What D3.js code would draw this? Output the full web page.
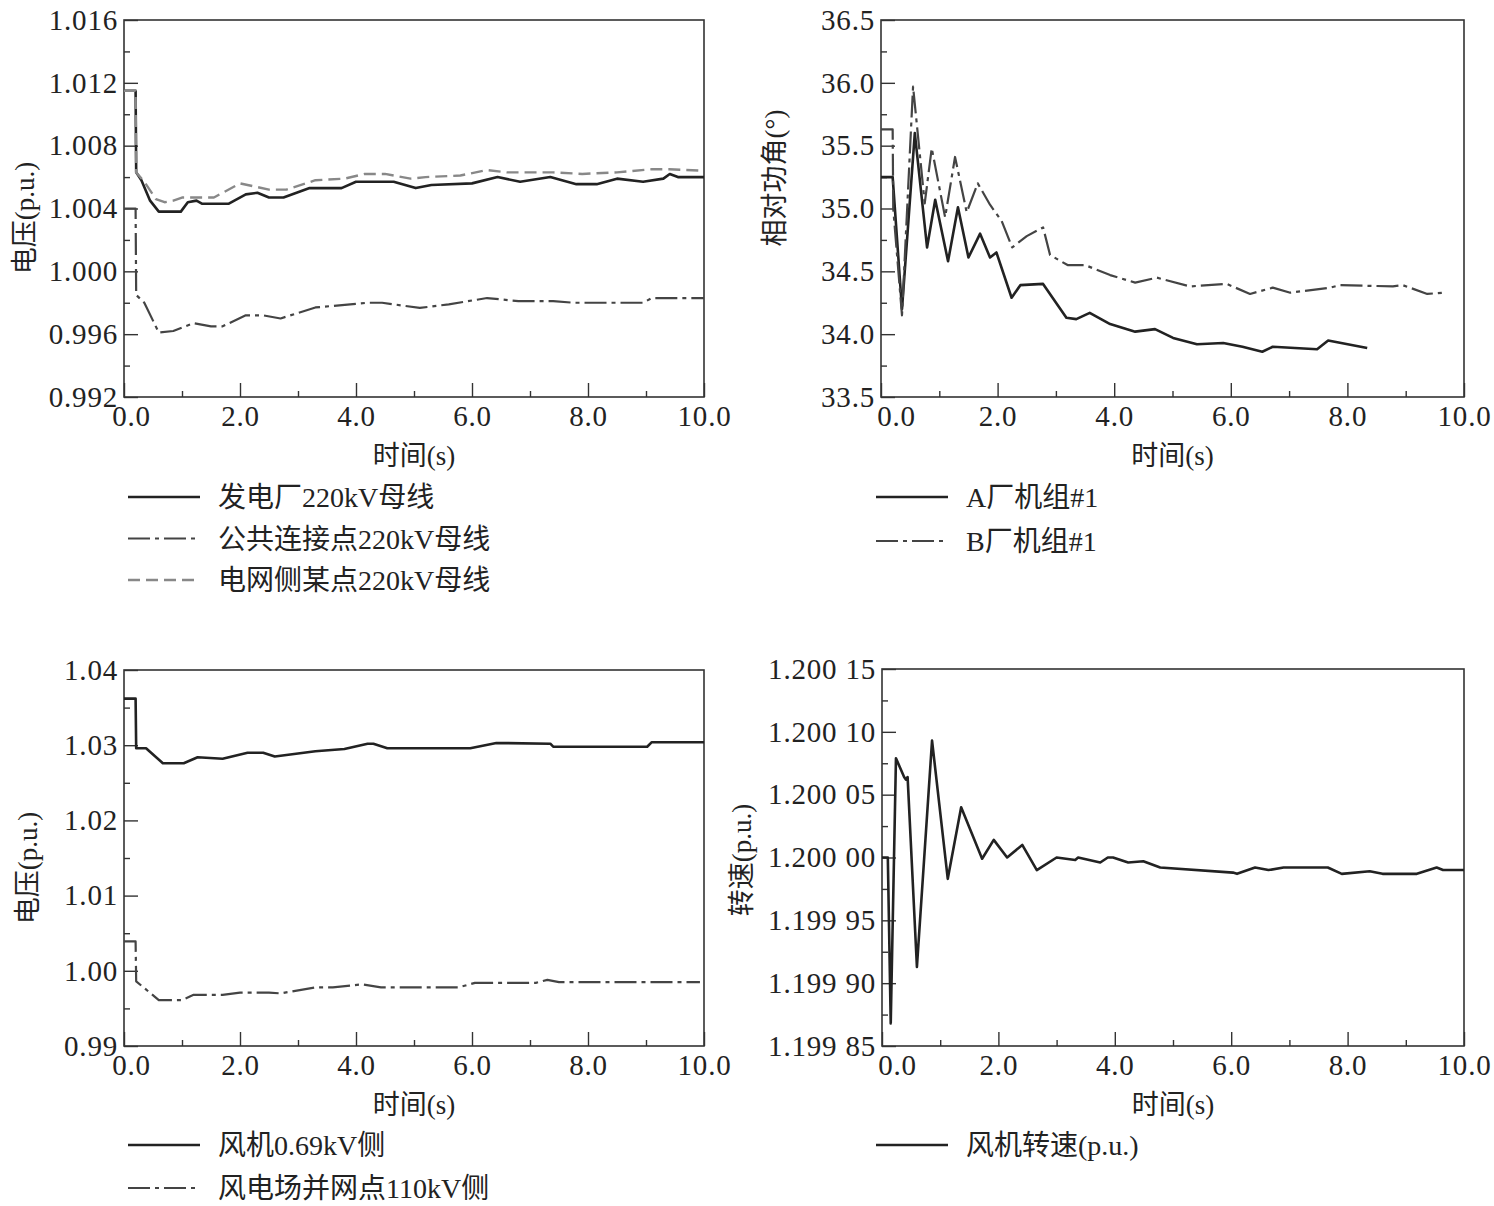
<!DOCTYPE html>
<html>
<head>
<meta charset="utf-8">
<script src="https://cdn.jsdelivr.net/npm/d3@7/dist/d3.min.js"></script>
<style>
  body { margin: 0; background: #fff; }
  text { font-family: "Liberation Serif", "Noto Sans CJK SC", serif; fill: #222; }
  .tick text { font-size: 29px; letter-spacing: 0.8px; }
  .title { font-size: 27px; }
  .legend { font-size: 28px; }
</style>
</head>
<body>
<script>
// ---- data: [time (s), value] ----
const xTicks = [0, 2, 4, 6, 8, 10];
const xMinorTicks = [1, 3, 5, 7, 9];
const xTickLabels = ['0.0', '2.0', '4.0', '6.0', '8.0', '10.0'];

// top-left: bus voltages
const p1YTicks = [0.992, 0.996, 1.000, 1.004, 1.008, 1.012, 1.016];
const p1YTickLabels = ['0.992', '0.996', '1.000', '1.004', '1.008', '1.012', '1.016'];
const plantBus = [[0, 1.0115], [0.2, 1.0115], [0.21, 1.0063], [0.3, 1.0058], [0.45, 1.0045], [0.6, 1.0038], [0.98, 1.0038], [1.1, 1.0044], [1.25, 1.0045], [1.35, 1.0043], [1.8, 1.0043], [2.1, 1.0049], [2.3, 1.0050], [2.5, 1.0047], [2.75, 1.0047], [3.2, 1.0053], [3.75, 1.0053], [4.0, 1.0057], [4.65, 1.0057], [5.03, 1.0053], [5.3, 1.0055], [6.0, 1.0056], [6.44, 1.0060], [6.83, 1.0057], [7.35, 1.0060], [7.8, 1.00555], [8.15, 1.00555], [8.5, 1.0059], [8.95, 1.0057], [9.3, 1.0059], [9.41, 1.0062], [9.55, 1.0060], [10, 1.0060]];
const pccBus = [[0, 1.0040], [0.2, 1.0040], [0.21, 0.9985], [0.35, 0.9980], [0.6, 0.9961], [0.85, 0.9962], [1.2, 0.9967], [1.5, 0.9965], [1.7, 0.9965], [2.1, 0.9972], [2.4, 0.9972], [2.7, 0.9970], [3.3, 0.9977], [3.9, 0.9979], [4.2, 0.9980], [4.45, 0.9980], [5.1, 0.99767], [5.6, 0.9979], [6.26, 0.9983], [6.8, 0.9981], [7.4, 0.9981], [7.75, 0.9980], [8.95, 0.9980], [9.1, 0.9983], [10, 0.9983]];
const gridBus = [[0, 1.0115], [0.2, 1.0115], [0.21, 1.0063], [0.35, 1.0057], [0.55, 1.0046], [0.7, 1.0044], [0.85, 1.0045], [1.0, 1.0047], [1.55, 1.0047], [2.0, 1.0056], [2.5, 1.0052], [2.8, 1.0052], [3.3, 1.0058], [3.8, 1.0059], [4.15, 1.0062], [4.5, 1.0062], [4.94, 1.0059], [5.2, 1.0060], [5.8, 1.0061], [6.26, 1.00645], [6.6, 1.0063], [7.4, 1.0063], [7.9, 1.0062], [8.5, 1.0063], [9.1, 1.0065], [9.4, 1.0065], [10, 1.0064]];
const p1Names = ['发电厂220kV母线', '公共连接点220kV母线', '电网侧某点220kV母线'];

// top-right: relative power angle
const p2YTicks = [33.5, 34.0, 34.5, 35.0, 35.5, 36.0, 36.5];
const p2YTickLabels = ['33.5', '34.0', '34.5', '35.0', '35.5', '36.0', '36.5'];
const unitA = [[0, 35.25], [0.2, 35.25], [0.36, 34.2], [0.58, 35.6], [0.79, 34.69], [0.93, 35.07], [1.15, 34.58], [1.32, 35.01], [1.5, 34.61], [1.7, 34.8], [1.87, 34.61], [1.98, 34.65], [2.24, 34.29], [2.39, 34.39], [2.78, 34.4], [3.18, 34.13], [3.35, 34.12], [3.58, 34.17], [3.93, 34.08], [4.36, 34.02], [4.7, 34.04], [5.01, 33.97], [5.42, 33.92], [5.87, 33.93], [6.2, 33.9], [6.54, 33.86], [6.72, 33.9], [7.1, 33.89], [7.48, 33.88], [7.67, 33.95], [8.34, 33.89]];
const unitB = [[0, 35.63], [0.2, 35.63], [0.21, 35.0], [0.36, 34.15], [0.55, 35.97], [0.75, 35.04], [0.87, 35.48], [1.1, 34.93], [1.27, 35.41], [1.47, 34.97], [1.66, 35.2], [1.87, 35.03], [2.07, 34.9], [2.25, 34.69], [2.5, 34.78], [2.78, 34.85], [2.9, 34.63], [3.2, 34.55], [3.5, 34.55], [3.93, 34.47], [4.36, 34.41], [4.73, 34.45], [5.3, 34.38], [5.93, 34.4], [6.33, 34.32], [6.72, 34.37], [7.02, 34.33], [7.7, 34.37], [7.87, 34.39], [8.78, 34.38], [8.95, 34.39], [9.37, 34.32], [9.64, 34.33]];
const p2Names = ['A厂机组#1', 'B厂机组#1'];

// bottom-left: wind farm voltages
const p3YTicks = [0.99, 1.00, 1.01, 1.02, 1.03, 1.04];
const p3YTickLabels = ['0.99', '1.00', '1.01', '1.02', '1.03', '1.04'];
const turbine069 = [[0, 1.0362], [0.2, 1.0362], [0.21, 1.0296], [0.38, 1.0296], [0.67, 1.0276], [1.03, 1.0276], [1.27, 1.0284], [1.7, 1.0282], [2.13, 1.0290], [2.4, 1.0290], [2.6, 1.0285], [3.3, 1.0292], [3.8, 1.0295], [4.2, 1.0302], [4.3, 1.0302], [4.54, 1.0296], [5.97, 1.0296], [6.42, 1.0303], [7.35, 1.0302], [7.4, 1.0298], [9.02, 1.0298], [9.1, 1.0304], [10, 1.0304]];
const farm110 = [[0, 1.0039], [0.2, 1.0039], [0.21, 0.9986], [0.6, 0.9961], [1.0, 0.9961], [1.2, 0.9968], [1.7, 0.9968], [2.0, 0.9971], [2.5, 0.9971], [2.7, 0.9970], [3.3, 0.9978], [3.6, 0.9978], [4.1, 0.9982], [4.43, 0.9978], [5.77, 0.9978], [6.05, 0.9984], [7.1, 0.9984], [7.3, 0.9988], [7.5, 0.9985], [9.93, 0.9985]];
const p3Names = ['风机0.69kV侧', '风电场并网点110kV侧'];

// bottom-right: rotor speed
const p4YTicks = [1.19985, 1.19990, 1.19995, 1.20000, 1.20005, 1.20010, 1.20015];
const p4YTickLabels = ['1.199 85', '1.199 90', '1.199 95', '1.200 00', '1.200 05', '1.200 10', '1.200 15'];
const rotorSpeed = [[0, 1.2], [0.1, 1.2], [0.15, 1.199868], [0.24, 1.200079], [0.38, 1.200064], [0.41, 1.200062], [0.44, 1.200064], [0.6, 1.199913], [0.86, 1.200093], [1.13, 1.199983], [1.36, 1.20004], [1.72, 1.199999], [1.92, 1.200014], [2.15, 1.2], [2.41, 1.20001], [2.66, 1.19999], [3.0, 1.2], [3.32, 1.199998], [3.37, 1.2], [3.75, 1.199996], [3.88, 1.2], [3.97, 1.2], [4.23, 1.199996], [4.49, 1.199997], [4.78, 1.199992], [6.03, 1.199988], [6.1, 1.199987], [6.41, 1.199992], [6.64, 1.19999], [6.9, 1.199992], [7.66, 1.199992], [7.9, 1.199987], [8.38, 1.199989], [8.6, 1.199987], [9.19, 1.199987], [9.53, 1.199992], [9.64, 1.19999], [10, 1.19999]];
const p4Names = ['风机转速(p.u.)'];

// ---- line styles ----
const solid = { stroke: '#222', width: 2.6, dash: null };
const dashDot = { stroke: '#444', width: 2.2, dash: '22 5 4 5' };
const grayDash = { stroke: '#888', width: 2.4, dash: '12 6' };

const svg = d3.select('body').append('svg')
  .attr('width', 1494)
  .attr('height', 1206);

function drawPanel(p) {
  const x = d3.scaleLinear().domain([0, 10]).range([p.left, p.right]);
  const y = d3.scaleLinear().domain([p.yTicks[0], p.yTicks[p.yTicks.length - 1]]).range([p.bottom, p.top]);
  const yStep = p.yTicks[1] - p.yTicks[0];
  const yMinor = p.yTicks.slice(0, -1).map(d => d + yStep / 2);

  const g = svg.append('g');

  // minor ticks
  g.append('g')
    .attr('transform', `translate(0,${p.bottom})`)
    .call(d3.axisBottom(x).tickValues(xMinorTicks).tickSize(-6).tickSizeOuter(0).tickFormat(''));
  g.append('g')
    .attr('transform', `translate(${p.left},0)`)
    .call(d3.axisLeft(y).tickValues(yMinor).tickSize(-6).tickSizeOuter(0).tickFormat(''));

  // major ticks
  const xAxis = g.append('g')
    .attr('transform', `translate(0,${p.bottom})`)
    .call(d3.axisBottom(x).tickValues(xTicks).tickSize(-14).tickSizeOuter(0)
      .tickPadding(8).tickFormat((d, i) => xTickLabels[i]));
  xAxis.selectAll('.tick text')
    .attr('dx', (d, i) => (i === 0 ? p.firstDx : 0));

  g.append('g')
    .attr('transform', `translate(${p.left},0)`)
    .call(d3.axisLeft(y).tickValues(p.yTicks).tickSize(-14).tickSizeOuter(0)
      .tickPadding(6).tickFormat((d, i) => p.yTickLabels[i]));

  g.selectAll('.domain').remove();
  g.selectAll('.tick line').attr('stroke', '#333').attr('stroke-width', 1.4);

  // frame
  g.append('rect')
    .attr('x', p.left)
    .attr('y', p.top)
    .attr('width', p.right - p.left)
    .attr('height', p.bottom - p.top)
    .attr('fill', 'none')
    .attr('stroke', '#333')
    .attr('stroke-width', 1.6);

  const line = d3.line()
    .x(d => x(d[0]))
    .y(d => y(d[1]));

  p.series.forEach((s) => {
    g.append('path')
      .datum(s.data)
      .attr('fill', 'none')
      .attr('stroke', s.style.stroke)
      .attr('stroke-width', s.style.width)
      .attr('stroke-dasharray', s.style.dash)
      .attr('stroke-linejoin', 'round')
      .attr('d', line);
  });

  // axis titles
  g.append('text')
    .attr('class', 'title')
    .attr('x', (p.left + p.right) / 2)
    .attr('y', p.bottom + 68)
    .attr('text-anchor', 'middle')
    .text('时间(s)');

  g.append('text')
    .attr('class', 'title')
    .attr('transform', `translate(${p.yTitleX},${p.yTitleY}) rotate(-90)`)
    .attr('text-anchor', 'middle')
    .attr('dy', '0.35em')
    .text(p.yTitle);

  // legend
  p.series.forEach((s, i) => {
    const ly = p.legendY + i * p.legendGap;
    g.append('line')
      .attr('x1', p.legendX)
      .attr('x2', p.legendX + 72)
      .attr('y1', ly)
      .attr('y2', ly)
      .attr('stroke', s.style.stroke)
      .attr('stroke-width', s.style.width)
      .attr('stroke-dasharray', s.style.dash);
    g.append('text')
      .attr('class', 'legend')
      .attr('x', p.legendX + 90)
      .attr('y', ly)
      .attr('dy', '0.36em')
      .text(s.name);
  });
}

drawPanel({
  left: 124, right: 704, top: 20, bottom: 397, firstDx: 7,
  yTicks: p1YTicks, yTickLabels: p1YTickLabels,
  yTitle: '电压(p.u.)', yTitleX: 25, yTitleY: 218,
  legendX: 128, legendY: 497, legendGap: 41.5,
  series: [
    { name: p1Names[0], data: plantBus, style: solid },
    { name: p1Names[1], data: pccBus, style: dashDot },
    { name: p1Names[2], data: gridBus, style: grayDash },
  ],
});

drawPanel({
  left: 881, right: 1464, top: 20, bottom: 397, firstDx: 15,
  yTicks: p2YTicks, yTickLabels: p2YTickLabels,
  yTitle: '相对功角(°)', yTitleX: 775, yTitleY: 178,
  legendX: 876, legendY: 497, legendGap: 44,
  series: [
    { name: p2Names[0], data: unitA, style: solid },
    { name: p2Names[1], data: unitB, style: dashDot },
  ],
});

drawPanel({
  left: 124, right: 704, top: 670, bottom: 1046, firstDx: 7,
  yTicks: p3YTicks, yTickLabels: p3YTickLabels,
  yTitle: '电压(p.u.)', yTitleX: 28, yTitleY: 868,
  legendX: 128, legendY: 1145, legendGap: 43,
  series: [
    { name: p3Names[0], data: turbine069, style: solid },
    { name: p3Names[1], data: farm110, style: dashDot },
  ],
});

drawPanel({
  left: 882, right: 1464, top: 669, bottom: 1046, firstDx: 15,
  yTicks: p4YTicks, yTickLabels: p4YTickLabels,
  yTitle: '转速(p.u.)', yTitleX: 742, yTitleY: 860,
  legendX: 876, legendY: 1145, legendGap: 43,
  series: [
    { name: p4Names[0], data: rotorSpeed, style: solid },
  ],
});
</script>
</body>
</html>
